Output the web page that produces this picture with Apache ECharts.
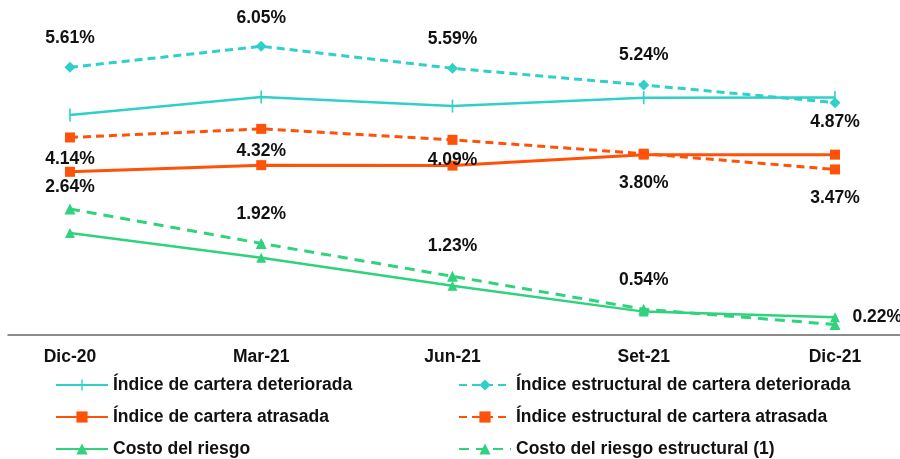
<!DOCTYPE html>
<html>
<head>
<meta charset="utf-8">
<script src="https://cdn.jsdelivr.net/npm/echarts@6/dist/echarts.min.js"></script>
<style>
  html, body { margin: 0; padding: 0; background: #fff; }
  #chart { width: 900px; height: 459px; }
</style>
</head>
<body>
<div id="chart"></div>
<script>
// datos del gráfico (%)
var categories = ['Dic-20', 'Mar-21', 'Jun-21', 'Set-21', 'Dic-21'];
var carteraDeteriorada = [4.61, 4.99, 4.80, 4.97, 4.98];
var carteraDeterioradaEstr = [5.61, 6.05, 5.59, 5.24, 4.87];
var carteraAtrasada = [3.42, 3.56, 3.55, 3.78, 3.78];
var carteraAtrasadaEstr = [4.14, 4.32, 4.09, 3.80, 3.47];
var costoRiesgo = [2.14, 1.62, 1.03, 0.49, 0.37];
var costoRiesgoEstr = [2.64, 1.92, 1.23, 0.54, 0.22];

var CYAN = '#2ed0c9';
var ORANGE = '#ff5208';
var GREEN = '#2fd27d';
var FONT = '"Liberation Sans", Arial, sans-serif';

var chart = echarts.init(document.getElementById('chart'));

// convierte un arreglo de valores en pares [índice, valor]
function pts(arr) {
    return arr.map(function (v, i) { return [i, v]; });
}

// etiquetas de las series estructurales: posición y distancia por punto
function withLabels(arr, place) {
    return arr.map(function (v, i) {
        return {
            value: [i, v],
            label: { position: place[i][0], distance: place[i][1], offset: place[i][2] || [0, 0] }
        };
    });
}

var labelBase = {
    show: true,
    color: '#111',
    fontFamily: FONT,
    fontWeight: 'bold',
    fontSize: 17.5,
    formatter: function (p) { return p.value[1].toFixed(2) + '%'; }
};

var legendBase = {
    top: 376,
    orient: 'vertical',
    padding: 0,
    itemWidth: 52,
    itemHeight: 14,
    itemGap: 14,
    textStyle: { color: '#111', fontFamily: FONT, fontWeight: 'bold', fontSize: 17.5, lineHeight: 18 }
};

// marcador tipo "+": barra vertical fina dentro de una caja cuadrada
var TICK = 'path://M-6.5,6.5L-6.5,6.5Z M-0.8,0L0.8,0L0.8,13L-0.8,13Z M6.5,6.5L6.5,6.5Z';

var option = {
    animation: false,
    backgroundColor: '#fff',
    grid: { left: 8, right: 0, top: 1, bottom: 124 },
    xAxis: {
        type: 'value',
        min: -0.324,
        max: 4.34,
        axisLine: { show: true, onZero: false, lineStyle: { color: '#666', width: 1.5 } },
        axisTick: { show: false },
        splitLine: { show: false },
        axisLabel: {
            customValues: [0, 1, 2, 3, 4],
            formatter: function (v) { return categories[Math.round(v)]; },
            margin: 13,
            color: '#111',
            fontFamily: FONT,
            fontWeight: 'bold',
            fontSize: 17.5
        }
    },
    yAxis: {
        type: 'value',
        min: 0,
        max: 7,
        show: false,
        splitLine: { show: false }
    },
    legend: [
        Object.assign({}, legendBase, {
            left: 55,
            data: ['Índice de cartera deteriorada', 'Índice de cartera atrasada', 'Costo del riesgo']
        }),
        Object.assign({}, legendBase, {
            left: 458,
            data: ['Índice estructural de cartera deteriorada', 'Índice estructural de cartera atrasada', 'Costo del riesgo estructural (1)']
        })
    ],
    series: [
        {
            name: 'Índice de cartera deteriorada',
            type: 'line',
            data: pts(carteraDeteriorada),
            symbol: TICK,
            symbolSize: 13,
            color: CYAN,
            lineStyle: { width: 2.5, color: CYAN }
        },
        {
            name: 'Índice estructural de cartera deteriorada',
            type: 'line',
            data: withLabels(carteraDeterioradaEstr, [['top', 15], ['top', 14], ['top', 15], ['top', 15], ['bottom', 5]]),
            symbol: 'diamond',
            symbolSize: 11,
            color: CYAN,
            lineStyle: { width: 3, type: [8, 5], color: CYAN },
            label: labelBase
        },
        {
            name: 'Índice de cartera atrasada',
            type: 'line',
            data: pts(carteraAtrasada),
            symbol: 'rect',
            symbolSize: 10,
            color: ORANGE,
            lineStyle: { width: 3, color: ORANGE }
        },
        {
            name: 'Índice estructural de cartera atrasada',
            type: 'line',
            data: withLabels(carteraAtrasadaEstr, [['bottom', 8], ['bottom', 8], ['bottom', 6], ['bottom', 15], ['bottom', 15]]),
            symbol: 'rect',
            symbolSize: 10,
            color: ORANGE,
            lineStyle: { width: 3, type: [8, 5], color: ORANGE },
            label: labelBase
        },
        {
            name: 'Costo del riesgo',
            type: 'line',
            data: pts(costoRiesgo),
            symbol: 'triangle',
            symbolSize: 10,
            color: GREEN,
            lineStyle: { width: 2.5, color: GREEN }
        },
        {
            name: 'Costo del riesgo estructural (1)',
            type: 'line',
            data: withLabels(costoRiesgoEstr, [['top', 7], ['top', 15], ['top', 16], ['top', 15], ['right', 12, [0, -7]]]),
            symbol: 'triangle',
            symbolSize: 11,
            color: GREEN,
            lineStyle: { width: 3, type: [10, 7], color: GREEN },
            label: labelBase
        }
    ]
};

option && chart.setOption(option);
</script>
</body>
</html>
